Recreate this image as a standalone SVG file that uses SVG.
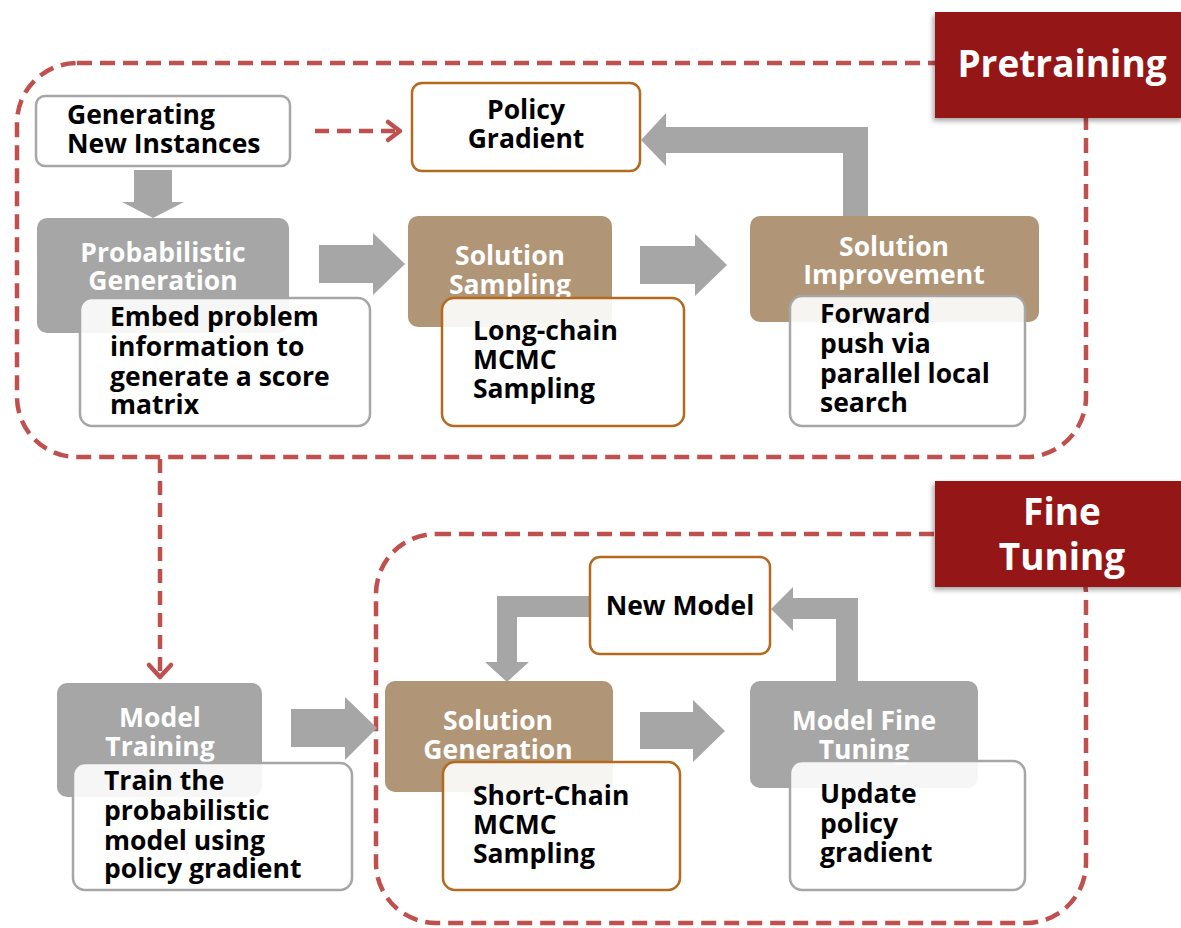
<svg xmlns="http://www.w3.org/2000/svg" width="1181" height="928" viewBox="0 0 1181 928">
  <defs>
    <filter id="shadow" x="-10%" y="-10%" width="120%" height="130%">
      <feDropShadow dx="-2" dy="3" stdDeviation="2.5" flood-color="#000" flood-opacity="0.35"/>
    </filter>
  </defs>
  <style>
    text { font-family: "Open Sans", "Noto Sans", "DejaVu Sans", sans-serif; font-weight: bold; }
    .stage { fill: none; stroke: #C0504D; stroke-width: 4.5; stroke-dasharray: 15 8; }
    .badge { fill: #951616; filter: url(#shadow); }
    .badge-text { fill: #FFFFFF; font-size: 37px; text-anchor: middle; }
    .head-gray { fill: #A6A6A6; }
    .head-tan { fill: #B09576; }
    .head-text { fill: #FFFFFF; font-size: 26.5px; text-anchor: middle; }
    .card { fill: #FFFFFF; fill-opacity: 0.9; stroke: #A6A6A6; stroke-width: 2.5; }
    .card-orange { fill: #FFFFFF; fill-opacity: 0.9; stroke: #B46A1E; stroke-width: 2.5; }
    .body-text { fill: #000000; font-size: 26.5px; }
    .block { fill: #A6A6A6; }
    .dash { fill: none; stroke: #C0504D; stroke-width: 4.5; stroke-dasharray: 14 8; }
    .chevron { fill: none; stroke: #C0504D; stroke-width: 4.5; stroke-linecap: round; stroke-linejoin: round; }
  </style>

  <!-- stage containers -->
  <g id="pretraining-stage">
    <rect class="stage" x="17" y="63" width="1069" height="394" rx="60"/>
  </g>
  <g id="finetuning-stage">
    <rect class="stage" x="376" y="534" width="710" height="389" rx="60"/>
  </g>

  <!-- connectors -->
  <g id="connectors">
    <line class="dash" x1="315" y1="131" x2="396" y2="131"/>
    <polyline class="chevron" points="388,122 400,131 388,140"/>
    <line class="dash" x1="160" y1="459" x2="160" y2="674"/>
    <polyline class="chevron" points="149,665 160,677 171,665"/>
    <polygon class="block" points="134,170 172,170 172,202 184,202 153,218 122,202 134,202"/>
    <polygon class="block" points="319,245 373,245 373,233 405,264 373,295 373,283 319,283"/>
    <polygon class="block" points="640,246 695,246 695,234 727,265 695,296 695,284 640,284"/>
    <polygon class="block" points="843,216 843,153 666,153 666,166 641,140 666,113 666,127 868,127 868,216"/>
    <polygon class="block" points="291,709 345,709 345,697 377,728 345,760 345,747 291,747"/>
    <polygon class="block" points="640,712 693,712 693,700 725,731 693,762 693,749 640,749"/>
    <polygon class="block" points="590,596 497,596 497,662 485,662 507,682 529,662 517,662 517,617 590,617"/>
    <polygon class="block" points="836,681 836,619 793,619 793,631 771,609 793,587 793,598 858,598 858,681"/>
  </g>

  <!-- stage badges -->
  <g id="pretraining-badge">
    <rect class="badge" x="935" y="12" width="250" height="106"/>
    <text class="badge-text" x="1062" y="77">Pretraining</text>
  </g>
  <g id="finetuning-badge">
    <rect class="badge" x="935" y="481" width="250" height="106"/>
    <text class="badge-text" x="1062" y="525">Fine</text>
    <text class="badge-text" x="1062" y="570">Tuning</text>
  </g>

  <!-- pretraining nodes -->
  <g id="generating-new-instances">
    <rect class="card" x="36" y="96" width="254" height="70" rx="9"/>
    <text class="body-text" x="67" y="124">Generating</text>
    <text class="body-text" x="67" y="153">New Instances</text>
  </g>
  <g id="policy-gradient">
    <rect class="card-orange" x="412" y="83" width="228" height="88" rx="10"/>
    <text class="body-text" x="526" y="119" text-anchor="middle">Policy</text>
    <text class="body-text" x="526" y="148" text-anchor="middle">Gradient</text>
  </g>
  <g id="probabilistic-generation">
    <rect class="head-gray" x="37" y="218" width="252" height="115" rx="10"/>
    <text class="head-text" x="163" y="262">Probabilistic</text>
    <text class="head-text" x="163" y="290">Generation</text>
    <rect class="card" x="80" y="298" width="290" height="128" rx="12"/>
    <text class="body-text" x="110" y="326">Embed problem</text>
    <text class="body-text" x="110" y="356">information to</text>
    <text class="body-text" x="110" y="386">generate a score</text>
    <text class="body-text" x="110" y="414">matrix</text>
  </g>
  <g id="solution-sampling">
    <rect class="head-tan" x="408" y="216" width="204" height="111" rx="10"/>
    <text class="head-text" x="510" y="265">Solution</text>
    <text class="head-text" x="510" y="294">Sampling</text>
    <rect class="card-orange" x="442" y="298" width="242" height="128" rx="12"/>
    <text class="body-text" x="473" y="340">Long-chain</text>
    <text class="body-text" x="473" y="369">MCMC</text>
    <text class="body-text" x="473" y="398">Sampling</text>
  </g>
  <g id="solution-improvement">
    <rect class="head-tan" x="750" y="216" width="289" height="106" rx="10"/>
    <text class="head-text" x="894" y="256">Solution</text>
    <text class="head-text" x="894" y="284">Improvement</text>
    <rect class="card" x="790" y="296" width="235" height="130" rx="12"/>
    <text class="body-text" x="820" y="323">Forward</text>
    <text class="body-text" x="820" y="353">push via</text>
    <text class="body-text" x="820" y="383">parallel local</text>
    <text class="body-text" x="820" y="412">search</text>
  </g>

  <!-- fine tuning nodes -->
  <g id="model-training">
    <rect class="head-gray" x="57" y="683" width="205" height="114" rx="10"/>
    <text class="head-text" x="160" y="727">Model</text>
    <text class="head-text" x="160" y="756">Training</text>
    <rect class="card" x="73" y="763" width="279" height="127" rx="12"/>
    <text class="body-text" x="104" y="790">Train the</text>
    <text class="body-text" x="104" y="820">probabilistic</text>
    <text class="body-text" x="104" y="850">model using</text>
    <text class="body-text" x="104" y="878">policy gradient</text>
  </g>
  <g id="new-model">
    <rect class="card-orange" x="590" y="557" width="180" height="97" rx="10"/>
    <text class="body-text" x="680" y="615" text-anchor="middle">New Model</text>
  </g>
  <g id="solution-generation">
    <rect class="head-tan" x="385" y="681" width="228" height="111" rx="10"/>
    <text class="head-text" x="498" y="730">Solution</text>
    <text class="head-text" x="498" y="759">Generation</text>
    <rect class="card-orange" x="443" y="762" width="237" height="128" rx="12"/>
    <text class="body-text" x="473" y="805">Short-Chain</text>
    <text class="body-text" x="473" y="834">MCMC</text>
    <text class="body-text" x="473" y="863">Sampling</text>
  </g>
  <g id="model-fine-tuning">
    <rect class="head-gray" x="750" y="681" width="228" height="107" rx="10"/>
    <text class="head-text" x="864" y="730">Model Fine</text>
    <text class="head-text" x="864" y="759">Tuning</text>
    <rect class="card" x="790" y="761" width="235" height="129" rx="12"/>
    <text class="body-text" x="820" y="803">Update</text>
    <text class="body-text" x="820" y="833">policy</text>
    <text class="body-text" x="820" y="862">gradient</text>
  </g>
</svg>
